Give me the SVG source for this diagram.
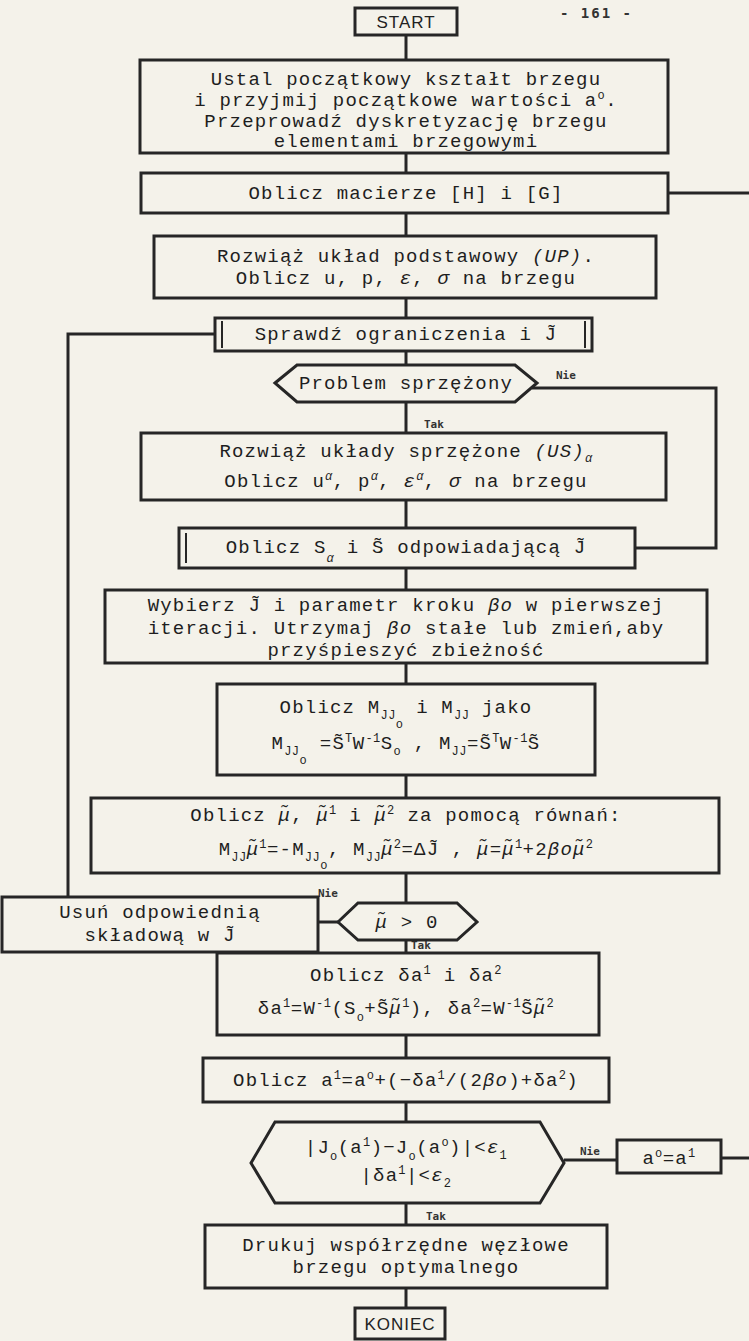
<svg xmlns="http://www.w3.org/2000/svg" width="749" height="1341" viewBox="0 0 749 1341">
<style>
.bg{fill:#f4f2ea}
.b{fill:none;stroke:#262626;stroke-width:3}
.ib{fill:none;stroke:#262626;stroke-width:2}
.c{fill:none;stroke:#262626;stroke-width:3}
.t{font-family:"Liberation Mono","DejaVu Sans Mono",monospace;font-size:19px;letter-spacing:1.2px;fill:#1e1e1e;text-anchor:middle}
.s{font-size:12px;letter-spacing:0.5px}
.i{font-style:italic}
.l{font-family:"DejaVu Sans Mono",monospace;font-size:11px;font-weight:bold;fill:#333}
.h{font-family:"Liberation Sans",Arial,sans-serif;font-size:17px;fill:#222;text-anchor:middle;letter-spacing:1px}
.pg{font-family:"DejaVu Sans Mono",monospace;font-size:14px;font-weight:bold;fill:#333;letter-spacing:2px}
</style>
<rect class="bg" x="0" y="0" width="749" height="1341"/>
<text class="pg" x="560" y="18">- 161 -</text>

<g id="connectors">
<path class="c" d="M406 35V60M406 153V173M406 213V236M406 298V318M406 351V365M406 402V433M406 500V528M406 568V590M406 663V684M406 775V798M406 873V903M406 940V953M406 1035V1058M406 1102V1122M406 1203V1225M406 1288V1308"/>
<path class="c" d="M668 193H749"/>
<path class="c" d="M215 334H68V897"/>
<path class="c" d="M532 388H716V548H635"/>
<path class="c" d="M318 922H338"/>
<path class="c" d="M564 1160H617"/>
<path class="c" d="M721 1158H749"/>
<text class="l" x="556" y="379">Nie</text>
<text class="l" x="424" y="428">Tak</text>
<text class="l" x="318" y="897">Nie</text>
<text class="l" x="411" y="949">Tak</text>
<text class="l" x="580" y="1155">Nie</text>
<text class="l" x="426" y="1220">Tak</text>
</g>

<g id="start">
<rect class="b" x="355" y="8" width="102" height="27"/>
<text class="h" x="406" y="28">START</text>
</g>

<g id="init">
<rect class="b" x="140" y="60" width="528" height="93"/>
<text class="t" x="406" y="85">Ustal początkowy kształt brzegu</text>
<text class="t" x="406" y="106">i przyjmij początkowe wartości  a<tspan class="s" baseline-shift="7">o</tspan>.</text>
<text class="t" x="406" y="127">Przeprowadź dyskretyzację brzegu</text>
<text class="t" x="406" y="147">elementami brzegowymi</text>
</g>

<g id="matrices">
<rect class="b" x="141" y="173" width="527" height="40"/>
<text class="t" x="406" y="199">Oblicz macierze [H] i [G]</text>
</g>

<g id="solve-up">
<rect class="b" x="154" y="236" width="502" height="62"/>
<text class="t" x="406" y="262">Rozwiąż układ podstawowy <tspan class="i">(UP)</tspan>.</text>
<text class="t" x="406" y="284">Oblicz u, p, <tspan class="i">ε</tspan>, <tspan class="i">σ</tspan> na brzegu</text>
</g>

<g id="check">
<rect class="b" x="215" y="318" width="377" height="33"/>
<path class="ib" d="M222 321V348M585 321V348"/>
<text class="t" x="406" y="340">Sprawdź ograniczenia i J̃</text>
</g>

<g id="adjoint-q">
<polygon class="b" points="275,383 297,365 515,365 537,383 515,402 297,402"/>
<text class="t" x="406" y="389">Problem sprzężony</text>
</g>

<g id="solve-us">
<rect class="b" x="141" y="433" width="525" height="67"/>
<text class="t" x="406" y="457">Rozwiąż układy sprzężone  <tspan class="i">(US)</tspan><tspan class="s i" baseline-shift="-5">α</tspan></text>
<text class="t" x="406" y="487">Oblicz  u<tspan class="s i" baseline-shift="7">α</tspan>, p<tspan class="s i" baseline-shift="7">α</tspan>, <tspan class="i">ε</tspan><tspan class="s i" baseline-shift="7">α</tspan>, <tspan class="i">σ</tspan>  na brzegu</text>
</g>

<g id="sens">
<rect class="b" x="179" y="528" width="456" height="40"/>
<path class="ib" d="M186 533V563"/>
<text class="t" x="406" y="553">Oblicz  S<tspan class="s i" baseline-shift="-9">α</tspan> i S̃ odpowiadającą J̃</text>
</g>

<g id="choose">
<rect class="b" x="105" y="590" width="602" height="73"/>
<text class="t" x="406" y="611">Wybierz J̃ i parametr kroku <tspan class="i">βo</tspan> w pierwszej</text>
<text class="t" x="406" y="634">iteracji. Utrzymaj <tspan class="i">βo</tspan> stałe lub zmień,aby</text>
<text class="t" x="406" y="656">przyśpieszyć zbieżność</text>
</g>

<g id="mjj">
<rect class="b" x="217" y="684" width="378" height="91"/>
<text class="t" x="406" y="713">Oblicz  M<tspan class="s" baseline-shift="-6">JJ</tspan><tspan class="s" baseline-shift="-15">o</tspan>  i   M<tspan class="s" baseline-shift="-6">JJ</tspan> jako</text>
<text class="t" x="406" y="749">M<tspan class="s" baseline-shift="-6">JJ</tspan><tspan class="s" baseline-shift="-15">o</tspan> =S̃<tspan class="s" baseline-shift="7">T</tspan>W<tspan class="s" baseline-shift="7">-1</tspan>S<tspan class="s" baseline-shift="-6">o</tspan> , M<tspan class="s" baseline-shift="-6">JJ</tspan>=S̃<tspan class="s" baseline-shift="7">T</tspan>W<tspan class="s" baseline-shift="7">-1</tspan>S̃</text>
</g>

<g id="mu">
<rect class="b" x="91" y="798" width="628" height="75"/>
<text class="t" x="406" y="821">Oblicz   <tspan class="i">μ̃</tspan>, <tspan class="i">μ̃</tspan><tspan class="s" baseline-shift="7">1</tspan> i   <tspan class="i">μ̃</tspan><tspan class="s" baseline-shift="7">2</tspan> za pomocą równań:</text>
<text class="t" x="406" y="855">M<tspan class="s" baseline-shift="-6">JJ</tspan><tspan class="i">μ̃</tspan><tspan class="s" baseline-shift="7">1</tspan>=-M<tspan class="s" baseline-shift="-6">JJ</tspan><tspan class="s" baseline-shift="-14">o</tspan>, M<tspan class="s" baseline-shift="-6">JJ</tspan><tspan class="i">μ̃</tspan><tspan class="s" baseline-shift="7">2</tspan>=ΔJ̃ , <tspan class="i">μ̃</tspan>=<tspan class="i">μ̃</tspan><tspan class="s" baseline-shift="7">1</tspan>+2<tspan class="i">βoμ̃</tspan><tspan class="s" baseline-shift="7">2</tspan></text>
</g>

<g id="remove">
<rect class="b" x="2" y="897" width="316" height="55"/>
<text class="t" x="160" y="918">Usuń odpowiednią</text>
<text class="t" x="160" y="941">składową w  J̃</text>
</g>

<g id="mu-q">
<polygon class="b" points="338,922 358,903 457,903 477,922 457,940 358,940"/>
<text class="t" x="407" y="928"><tspan class="i">μ̃</tspan> &gt; 0</text>
</g>

<g id="delta">
<rect class="b" x="217" y="953" width="382" height="82"/>
<text class="t" x="406" y="981">Oblicz  δa<tspan class="s" baseline-shift="7">1</tspan> i  δa<tspan class="s" baseline-shift="7">2</tspan></text>
<text class="t" x="406" y="1014">δa<tspan class="s" baseline-shift="7">1</tspan>=W<tspan class="s" baseline-shift="7">-1</tspan>(S<tspan class="s" baseline-shift="-7">o</tspan>+S̃<tspan class="i">μ̃</tspan><tspan class="s" baseline-shift="7">1</tspan>), δa<tspan class="s" baseline-shift="7">2</tspan>=W<tspan class="s" baseline-shift="7">-1</tspan>S̃<tspan class="i">μ̃</tspan><tspan class="s" baseline-shift="7">2</tspan></text>
</g>

<g id="update">
<rect class="b" x="203" y="1058" width="406" height="44"/>
<text class="t" x="406" y="1086">Oblicz  a<tspan class="s" baseline-shift="7">1</tspan>=a<tspan class="s" baseline-shift="7">o</tspan>+(−δa<tspan class="s" baseline-shift="7">1</tspan>/(2<tspan class="i">βo</tspan>)+δa<tspan class="s" baseline-shift="7">2</tspan>)</text>
</g>

<g id="conv-q">
<polygon class="b" points="251,1163 275,1122 540,1122 564,1163 540,1203 275,1203"/>
<text class="t" x="406" y="1153">|J<tspan class="s" baseline-shift="-7">o</tspan>(a<tspan class="s" baseline-shift="7">1</tspan>)−J<tspan class="s" baseline-shift="-7">o</tspan>(a<tspan class="s" baseline-shift="7">o</tspan>)|&lt;<tspan class="i">ε</tspan><tspan class="s" baseline-shift="-6">1</tspan></text>
<text class="t" x="406" y="1181">|δa<tspan class="s" baseline-shift="7">1</tspan>|&lt;<tspan class="i">ε</tspan><tspan class="s" baseline-shift="-6">2</tspan></text>
</g>

<g id="reset">
<rect class="b" x="617" y="1140" width="104" height="33"/>
<text class="t" x="669" y="1164">a<tspan class="s" baseline-shift="7">o</tspan>=a<tspan class="s" baseline-shift="7">1</tspan></text>
</g>

<g id="print">
<rect class="b" x="205" y="1225" width="402" height="63"/>
<text class="t" x="406" y="1251">Drukuj współrzędne węzłowe</text>
<text class="t" x="406" y="1273">brzegu optymalnego</text>
</g>

<g id="end">
<rect class="b" x="355" y="1308" width="90" height="31"/>
<text class="h" x="400" y="1330">KONIEC</text>
</g>
</svg>
